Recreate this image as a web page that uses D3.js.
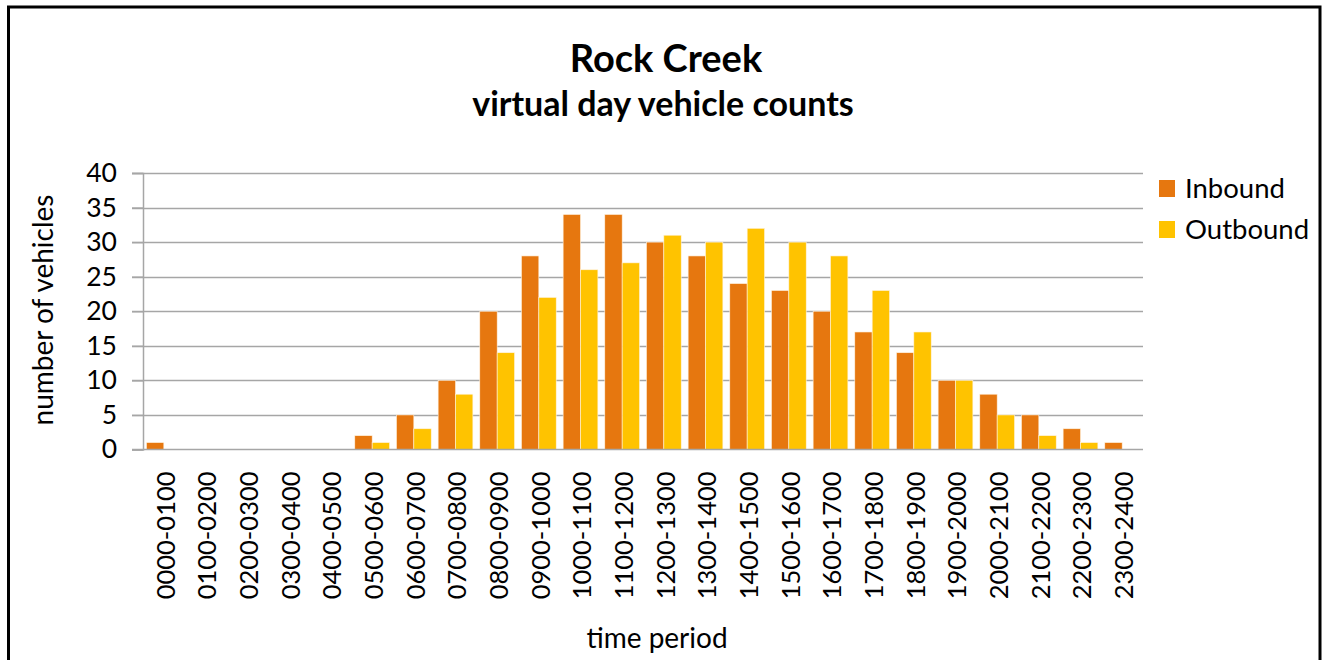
<!DOCTYPE html>
<html>
<head>
<meta charset="utf-8">
<script src="https://cdn.jsdelivr.net/npm/d3@7"></script>
<style>
  html, body { margin: 0; padding: 0; background: #fff; }
  svg { display: block; }
  text { font-family: Lato, "Open Sans", sans-serif; fill: #000; }
</style>
</head>
<body>
<svg id="chart" width="1325" height="660"></svg>
<script>
// Hourly time periods
const periods = [
  "0000-0100","0100-0200","0200-0300","0300-0400","0400-0500","0500-0600",
  "0600-0700","0700-0800","0800-0900","0900-1000","1000-1100","1100-1200",
  "1200-1300","1300-1400","1400-1500","1500-1600","1600-1700","1700-1800",
  "1800-1900","1900-2000","2000-2100","2100-2200","2200-2300","2300-2400"
];
// Vehicle counts per period
const inbound  = [1,0,0,0,0,2,5,10,20,28,34,34,30,28,24,23,20,17,14,10,8,5,3,1];
const outbound = [0,0,0,0,0,1,3,8,14,22,26,27,31,30,32,30,28,23,17,10,5,2,1,0];
const seriesNames = ["Inbound", "Outbound"];
const seriesColors = ["#E6770F", "#FFC300"];
const yTicks = [0,5,10,15,20,25,30,35,40];

const svg = d3.select("#chart");

// outer frame
svg.append("rect")
  .attr("x", 8.5).attr("y", 7).attr("width", 1311.5).attr("height", 680)
  .attr("fill", "none").attr("stroke", "#000").attr("stroke-width", 3);

const plot = { left: 143, right: 1143, top: 173, bottom: 449.5 };

const x = d3.scaleBand().domain(periods).range([plot.left, plot.right]).paddingInner(0.166).paddingOuter(0.083);
const xs = d3.scaleBand().domain(seriesNames).range([0, x.bandwidth()]);
const y = d3.scaleLinear().domain([0, 40]).range([plot.bottom, plot.top]);

// gridlines
svg.append("g")
  .selectAll("line").data(yTicks.filter(d => d > 0)).join("line")
  .attr("x1", plot.left - 11).attr("x2", plot.right)
  .attr("y1", d => Math.round(y(d)) + 0.5).attr("y2", d => Math.round(y(d)) + 0.5)
  .attr("stroke", "#a6a6a6").attr("stroke-width", 1.5);

// y axis
const yAxis = svg.append("g")
  .attr("transform", `translate(${plot.left},0)`)
  .call(d3.axisLeft(y).tickValues(yTicks).tickSize(11).tickPadding(15));
yAxis.select(".domain").attr("stroke", "#a6a6a6").attr("stroke-width", 1.5);
yAxis.selectAll(".tick line").attr("stroke", "#a6a6a6").attr("stroke-width", 1.5);
yAxis.selectAll(".tick text")
  .attr("font-size", 26.5).attr("font-family", "Lato, sans-serif").attr("fill", "#1a1a1a");

// bars
const groups = svg.append("g").selectAll("g").data(periods).join("g")
  .attr("transform", d => `translate(${x(d)},0)`);
groups.selectAll("rect")
  .data((d, i) => [{ s: 0, v: inbound[i] }, { s: 1, v: outbound[i] }])
  .join("rect")
  .filter(d => d.v > 0)
  .attr("x", d => xs(seriesNames[d.s]))
  .attr("width", xs.bandwidth())
  .attr("y", d => y(d.v))
  .attr("height", d => y(0) - y(d.v))
  .attr("fill", d => seriesColors[d.s])
  .attr("stroke", "#fff3e0").attr("stroke-width", 0.6);

// x axis
const xAxis = svg.append("g")
  .attr("transform", `translate(0,${plot.bottom})`)
  .call(d3.axisBottom(x).tickSize(0).tickPadding(0));
xAxis.select(".domain").remove();
svg.append("line")
  .attr("x1", plot.left - 11).attr("x2", plot.right)
  .attr("y1", plot.bottom).attr("y2", plot.bottom)
  .attr("stroke", "#a6a6a6").attr("stroke-width", 1.5);
xAxis.selectAll(".tick text")
  .attr("font-size", 25.5).attr("font-family", "Lato, sans-serif").attr("fill", "#000")
  .attr("transform", "rotate(-90)")
  .attr("text-anchor", "end")
  .attr("x", -22).attr("y", 2)
  .attr("dy", "0.35em");

// titles
svg.append("text").attr("x", 666).attr("y", 72)
  .attr("text-anchor", "middle").attr("font-size", 38).attr("font-weight", "bold")
  .text("Rock Creek");
svg.append("text").attr("x", 663).attr("y", 116)
  .attr("text-anchor", "middle").attr("font-size", 34).attr("font-weight", "bold")
  .text("virtual day vehicle counts");

// axis titles
svg.append("text").attr("x", 657).attr("y", 648)
  .attr("text-anchor", "middle").attr("font-size", 28).attr("fill", "#1a1a1a")
  .text("time period");
svg.append("text")
  .attr("transform", "translate(53,310) rotate(-90)")
  .attr("text-anchor", "middle").attr("font-size", 28).attr("fill", "#1a1a1a")
  .text("number of vehicles");

// legend
const legend = svg.append("g").selectAll("g").data(seriesNames).join("g")
  .attr("transform", (d, i) => `translate(1159,${180 + i * 41})`);
legend.append("rect").attr("width", 16).attr("height", 17)
  .attr("fill", (d, i) => seriesColors[i]);
legend.append("text").attr("x", 26).attr("y", 18)
  .attr("font-size", 27.5).attr("fill", "#1a1a1a").text(d => d);
</script>
</body>
</html>
